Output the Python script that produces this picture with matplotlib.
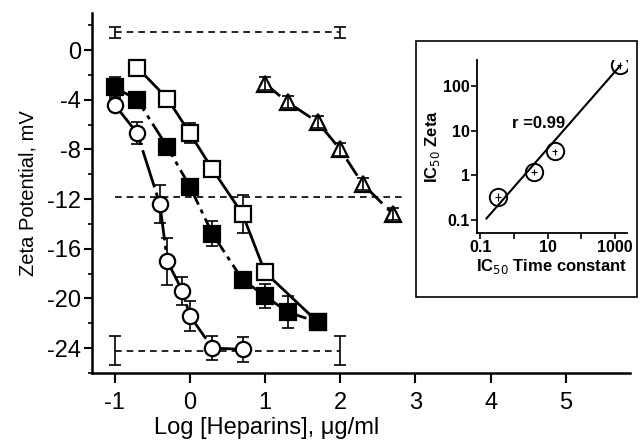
import numpy as np
import matplotlib
matplotlib.use("Agg")
import matplotlib.pyplot as plt
from matplotlib.patches import Rectangle

plt.rcParams['font.family'] = ['Liberation Sans', 'DejaVu Sans']

# open squares
sq_open_x = [-0.7, -0.3, 0.0, 0.3, 0.7, 1.0, 1.7]
sq_open_y = [-1.4, -3.9, -6.7, -9.6, -13.2, -17.9, -21.9]
sq_open_e = [0.3, 0.3, 0.8, 0.3, 1.5, 0.3, 0.3]

# filled squares
sq_fill_x = [-1.0, -0.7, -0.3, 0.0, 0.3, 0.7, 1.0, 1.3, 1.7]
sq_fill_y = [-3.0, -4.0, -7.8, -11.0, -14.8, -18.5, -19.8, -21.1, -21.9]
sq_fill_e = [0.8, 0.3, 0.3, 0.6, 1.0, 0.6, 1.0, 1.3, 0.6]

# open circles
circ_x = [-1.0, -0.7, -0.4, -0.3, -0.1, 0.0, 0.3, 0.7]
circ_y = [-4.4, -6.7, -12.4, -17.0, -19.4, -21.4, -24.0, -24.1]
circ_e = [0.5, 0.9, 1.5, 1.9, 1.1, 1.2, 1.0, 1.0]

# triangles
tri_x = [1.0, 1.3, 1.7, 2.0, 2.3, 2.7]
tri_y = [-2.7, -4.2, -5.8, -8.0, -10.8, -13.2]
tri_e = [0.5, 0.5, 0.5, 0.5, 0.5, 0.5]

# reference levels
ref_top_x = [-1.0, 2.0]
ref_top_y = [1.45, 1.45]
ref_top_e = [0.45, 0.45]
ref_mid_x = [-1.0, 2.85]
ref_mid_y = [-11.8, -11.8]
ref_bot_x = [-1.0, 2.0]
ref_bot_y = [-24.2, -24.2]
ref_bot_e = [1.2, 1.2]

# inset data
ins_x = [0.35, 4.0, 16.7, 1400]
ins_y = [0.33, 1.2, 3.4, 295]
ins_xe = [0.08, 0.8, 3.0, 250]
ins_ye = [0.06, 0.2, 0.5, 50]
fit_x = [0.155, 1400]
fit_y = [0.107, 280]

fig = plt.figure(figsize=(6.4, 4.45), dpi=100)
ax = fig.add_axes([0.144, 0.162, 0.84, 0.809])

lw = 2
dashdot = (0, (7, 2.5, 1.5, 2.5))
longdash = (0, (14, 2, 1.5, 2))
refdash = (0, (4, 3))
mk = dict(markersize=11, markeredgewidth=1.6, markeredgecolor='black')
eb = dict(ecolor='black', elinewidth=1.2, capsize=4.5, capthick=1.2)

# reference dashed lines
ax.errorbar(ref_top_x, ref_top_y, yerr=ref_top_e, fmt='none', **eb)
ax.plot(ref_top_x, ref_top_y, color='black', lw=1.2, ls=refdash)
ax.plot(ref_mid_x, ref_mid_y, color='black', lw=1.2, ls=refdash)
ax.errorbar(ref_bot_x, ref_bot_y, yerr=ref_bot_e, fmt='none', **eb)
ax.plot(ref_bot_x, ref_bot_y, color='black', lw=1.2, ls=refdash)

ax.errorbar(sq_open_x, sq_open_y, yerr=sq_open_e, fmt='none', zorder=2, **eb)
ax.plot(sq_open_x, sq_open_y, color='black', lw=lw, marker='s',
        markerfacecolor='white', zorder=3, **mk)

ax.errorbar(sq_fill_x, sq_fill_y, yerr=sq_fill_e, fmt='none', zorder=2, **eb)
ax.plot(sq_fill_x, sq_fill_y, color='black', lw=lw, ls=longdash, marker='s',
        markerfacecolor='black', zorder=4, **mk)

ax.errorbar(circ_x, circ_y, yerr=circ_e, fmt='none', zorder=2, **eb)
ax.plot(circ_x, circ_y, color='black', lw=lw, ls=longdash, marker='o',
        markerfacecolor='white', zorder=3, **mk)

ax.plot(tri_x, tri_y, color='black', lw=lw, ls=dashdot, marker='^',
        markerfacecolor='white', zorder=3, **mk)
ax.errorbar(tri_x, tri_y, yerr=tri_e, fmt='none', zorder=5, **eb)

ax.set_xlim(-1.3, 5.85)
ax.set_ylim(-26, 3)
ax.set_xticks(range(-1, 6))
ax.set_yticks(range(-24, 1, 4))
ax.set_yticks(range(-26, 3, 2), minor=True)
ax.set_xticklabels([str(v) for v in range(-1, 6)])
ax.set_yticklabels([str(v) for v in range(-24, 1, 4)])
for s in ['top', 'right']:
    ax.spines[s].set_visible(False)
for s in ['left', 'bottom']:
    ax.spines[s].set_linewidth(1.8)
ax.tick_params(axis='both', which='major', labelsize=17, width=1.5, length=6)
ax.tick_params(axis='x', which='major', length=7, pad=6.5)
ax.tick_params(axis='y', which='major', pad=2)
ax.tick_params(axis='both', which='minor', width=1.2, length=3)
ax.set_xlabel('Log [Heparins], \u03bcg/ml', fontsize=17)
ax.xaxis.set_label_coords(0.325, -0.122)
ax.set_ylabel('Zeta Potential, mV', fontsize=14.5, labelpad=7)

# inset box
fig.patches.append(Rectangle((0.65, 0.333), 0.345, 0.575, transform=fig.transFigure,
                             facecolor='white', edgecolor='black', lw=1.2, zorder=5))

ins = fig.add_axes([0.745, 0.476, 0.234, 0.389], zorder=6)
ins.set_xscale('log')
ins.set_yscale('log')
ins.plot(fit_x, fit_y, color='black', lw=1.5)
ins.errorbar(ins_x, ins_y, xerr=ins_xe, yerr=ins_ye, fmt='o', color='black',
             markerfacecolor='none', markeredgecolor='black', markersize=12.5,
             markeredgewidth=1.4, elinewidth=0.8, capsize=0)
ins.text(5.4, 14.6, 'r =0.99', fontsize=12, fontweight='bold', ha='center', va='center')
ins.set_xlim(0.08, 2200)
ins.set_ylim(0.05, 380)
ins.set_xticks([0.1, 1, 10, 100, 1000])
ins.set_xticklabels(['0.1', '', '10', '', '1000'])
ins.set_yticks([0.1, 1, 10, 100])
ins.set_yticklabels(['0.1', '1', '10', '100'])
ins.set_xticks([], minor=True)
ins.set_yticks([], minor=True)
for s in ['top', 'right']:
    ins.spines[s].set_visible(False)
for s in ['left', 'bottom']:
    ins.spines[s].set_linewidth(1.3)
ins.tick_params(axis='both', labelsize=11.5, width=1.2, length=4, pad=1)
for lab in ins.get_xticklabels() + ins.get_yticklabels():
    lab.set_fontweight('bold')
ins.set_xlabel('IC$_{50}$ Time constant', fontsize=12, fontweight='bold', labelpad=1)
ins.set_ylabel('IC$_{50}$ Zeta', fontsize=12, fontweight='bold', labelpad=1)
ins.patch.set_alpha(0)

fig.savefig('out.png', dpi=100)
